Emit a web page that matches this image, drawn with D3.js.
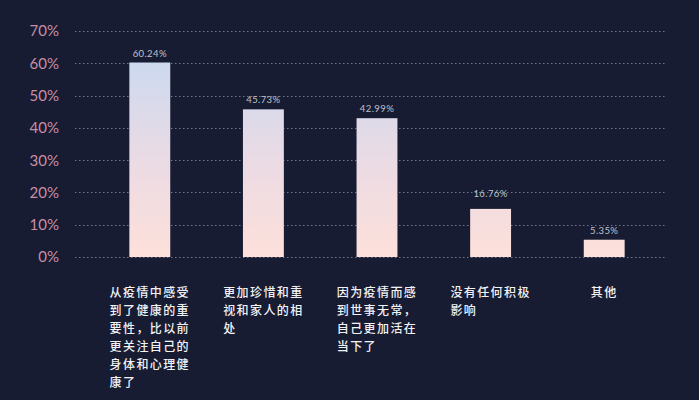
<!DOCTYPE html>
<html><head><meta charset="utf-8">
<script src="https://cdn.jsdelivr.net/npm/d3@7"></script>
<style>
html,body{margin:0;padding:0;background:#171c33;}
svg{display:block;}
</style></head>
<body>
<svg id="chart" width="699" height="400"></svg>
<script>
const categories = [
  "从疫情中感受到了健康的重要性，比以前更关注自己的身体和心理健康了",
  "更加珍惜和重视和家人的相处",
  "因为疫情而感到世事无常，自己更加活在当下了",
  "没有任何积极影响",
  "其他"
];
// labelled values
const values = [60.24, 45.73, 42.99, 16.76, 5.35];
// bar heights as drawn in the picture (4th bar is drawn lower than its label)
const barValues = [60.24, 45.73, 42.99, 14.9, 5.35];
const valueLabels = ["60.24%", "45.73%", "42.99%", "16.76%", "5.35%"];
const yTicks = [0, 10, 20, 30, 40, 50, 60, 70];

const svg = d3.select("#chart");
const W = 699, H = 400;
svg.append("rect").attr("width", W).attr("height", H).attr("fill", "#171c33");

const x0 = 93, x1 = 661, gridL = 75, gridR = 665;
const y = d3.scaleLinear().domain([0, 70]).range([257, 31]);
const x = d3.scaleBand().domain(categories).range([x0, x1]).paddingInner(0.64).paddingOuter(0.32);

const defs = svg.append("defs");
const grad = defs.append("linearGradient").attr("id", "barGrad")
  .attr("gradientUnits", "userSpaceOnUse")
  .attr("x1", 0).attr("x2", 0).attr("y1", y(60)).attr("y2", y(0));
grad.append("stop").attr("offset", "0%").attr("stop-color", "#cdd9ef");
grad.append("stop").attr("offset", "55%").attr("stop-color", "#eddbe3");
grad.append("stop").attr("offset", "100%").attr("stop-color", "#fde0da");

// grid
svg.append("g").selectAll("line").data(yTicks).join("line")
  .attr("x1", gridL).attr("x2", gridR)
  .attr("y1", d => Math.round(y(d)) + 0.5).attr("y2", d => Math.round(y(d)) + 0.5)
  .attr("stroke", "#70758c").attr("stroke-width", 1).attr("stroke-dasharray", "1.5,2.5");

// y labels
svg.append("g").selectAll("text").data(yTicks).join("text")
  .attr("x", 59).attr("y", d => y(d))
  .attr("dy", "0.36em").attr("text-anchor", "end")
  .attr("fill", "#c98ea3").attr("font-family", "Lato, 'Noto Sans', sans-serif")
  .attr("font-size", 15).text(d => d + "%");

// bars
svg.append("g").selectAll("rect").data(barValues).join("rect")
  .attr("x", (d, i) => x(categories[i]))
  .attr("width", x.bandwidth())
  .attr("y", d => y(d))
  .attr("height", d => y(0) - y(d))
  .attr("fill", "url(#barGrad)");

// value labels
svg.append("g").selectAll("text").data(values).join("text")
  .attr("x", (d, i) => x(categories[i]) + x.bandwidth() / 2)
  .attr("y", d => y(d) - 6)
  .attr("text-anchor", "middle")
  .attr("fill", "#bfc3cf").attr("font-family", "Lato, 'Noto Sans', sans-serif")
  .attr("font-size", 9.5).attr("letter-spacing", 0.4)
  .text((d, i) => valueLabels[i]);

// category labels (wrap 6 chars per line, block centered, lines left aligned)
const charW = 13.4, perLine = 6;
categories.forEach((c, i) => {
  const chars = Array.from(c);
  const lines = [];
  for (let k = 0; k < chars.length; k += perLine) lines.push(chars.slice(k, k + perLine).join(""));
  const blockW = Math.min(chars.length, perLine) * charW;
  const cx = x(c) + x.bandwidth() / 2;
  const left = cx - blockW / 2;
  const t = svg.append("text")
    .attr("fill", "#f2f2f5").attr("font-family", "'Noto Sans CJK SC', sans-serif")
    .attr("font-size", 12).attr("font-weight", 500).attr("letter-spacing", 1.4);
  lines.forEach((ln, j) => {
    t.append("tspan").attr("x", left).attr("y", 297 + j * 18).text(ln);
  });
});
</script>
</body></html>
